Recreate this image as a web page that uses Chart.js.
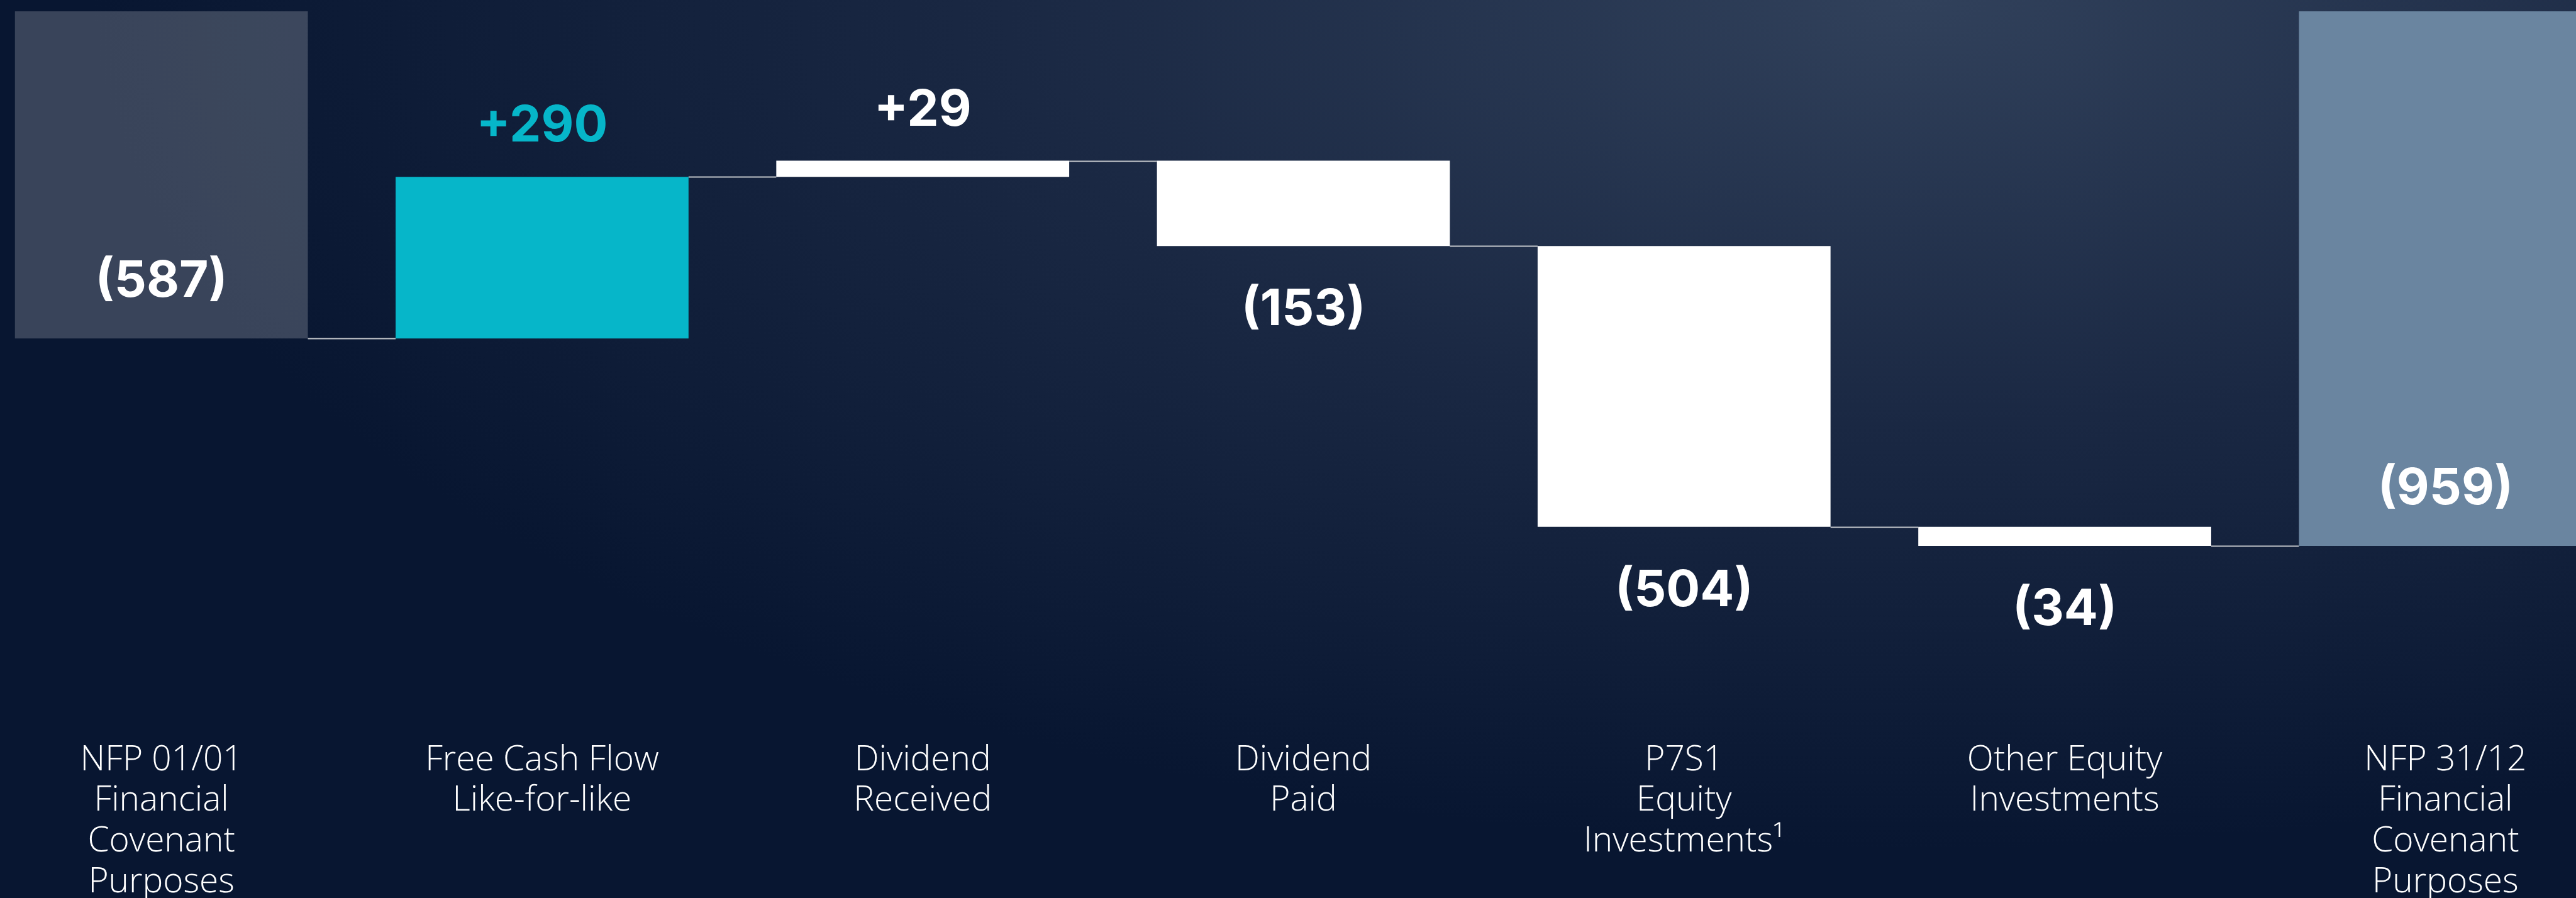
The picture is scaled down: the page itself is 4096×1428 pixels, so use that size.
<!DOCTYPE html>
<html>
<head>
<meta charset="utf-8">
<script src="https://cdn.jsdelivr.net/npm/chart.js@4/dist/chart.umd.min.js"></script>
<style>
  html, body {
    margin: 0;
    width: 4096px;
    height: 1428px;
    overflow: hidden;
    background: radial-gradient(ellipse 2900px 1350px at 3050px 0px, #31415b 0%, #1a2843 50%, #081631 100%);
  }
  #wrap {
    position: absolute;
    left: -46px;
    top: 0;
    width: 4237px;
    height: 1436px;
  }
</style>
</head>
<body>
<div id="wrap"><canvas id="chart"></canvas></div>
<script>
const categories = [
    ['NFP 01/01', 'Financial', 'Covenant', 'Purposes'],
    ['Free Cash Flow', 'Like-for-like'],
    ['Dividend', 'Received'],
    ['Dividend', 'Paid'],
    ['P7S1', 'Equity', 'Investments\u00b9'],
    ['Other Equity', 'Investments'],
    ['NFP 31/12', 'Financial', 'Covenant', 'Purposes']
];
const values = [-587, 290, 29, -153, -504, -34, -959];
const isTotal = [true, false, false, false, false, false, true];
const valueLabels = ['(587)', '+290', '+29', '(153)', '(504)', '(34)', '(959)'];

const barColors = ['rgba(255,255,255,0.2)', '#06b6c9', '#ffffff', '#ffffff', '#ffffff', '#ffffff', '#6a85a0'];
const labelColors = ['#ffffff', '#06b6c9', '#ffffff', '#ffffff', '#ffffff', '#ffffff', '#ffffff'];

// floating bars [start, end] built from the deltas
let running = 0;
const floating = values.map((v, i) => {
    if (isTotal[i]) {
        running = v;
        return [0, v];
    }
    const start = running;
    running += v;
    return [start, running];
});

const connectors = {
    id: 'connectors',
    beforeDatasetsDraw(chart) {
        const ctx = chart.ctx;
        const meta = chart.getDatasetMeta(0);
        const y = chart.scales.y;
        ctx.save();
        ctx.strokeStyle = '#c4c7cc';
        ctx.lineWidth = 2;
        for (let i = 0; i < meta.data.length - 1; i++) {
            const a = meta.data[i], b = meta.data[i + 1];
            const py = Math.round(y.getPixelForValue(floating[i][1])) + 0.5;
            ctx.beginPath();
            ctx.moveTo(a.x + a.width / 2, py);
            ctx.lineTo(b.x - b.width / 2, py);
            ctx.stroke();
        }
        ctx.restore();
    }
};

const valueLabelPlugin = {
    id: 'valueLabels',
    afterDatasetsDraw(chart) {
        const ctx = chart.ctx;
        const meta = chart.getDatasetMeta(0);
        ctx.save();
        ctx.font = '700 80px Inter';
        ctx.textAlign = 'center';
        ctx.textBaseline = 'middle';
        meta.data.forEach((el, i) => {
            const top = Math.min(el.y, el.base);
            const bottom = Math.max(el.y, el.base);
            let ly;
            if (isTotal[i]) ly = bottom - 90;
            else if (values[i] > 0) ly = top - 80;
            else ly = bottom + 102;
            ctx.fillStyle = labelColors[i];
            ctx.fillText(valueLabels[i], el.x, ly);
        });
        ctx.restore();
    }
};

new Chart(document.getElementById('chart'), {
    type: 'bar',
    data: {
        labels: categories,
        datasets: [{
            data: floating,
            backgroundColor: barColors,
            borderWidth: 0,
            borderSkipped: false,
            barPercentage: 1,
            categoryPercentage: 0.7695
        }]
    },
    options: {
        responsive: true,
        maintainAspectRatio: false,
        animation: false,
        layout: { padding: { top: 18, left: 0, right: 0, bottom: 0 } },
        plugins: {
            legend: { display: false },
            tooltip: { enabled: false }
        },
        scales: {
            x: {
                grid: { display: false },
                border: { display: false },
                ticks: {
                    color: '#ffffff',
                    font: { family: 'Open Sans', weight: '300', size: 55, lineHeight: 1.18 },
                    padding: 0,
                    maxRotation: 0,
                    autoSkip: false
                }
            },
            y: {
                display: false,
                min: -1298,
                max: 0
            }
        }
    },
    plugins: [connectors, valueLabelPlugin]
});
</script>
</body>
</html>
